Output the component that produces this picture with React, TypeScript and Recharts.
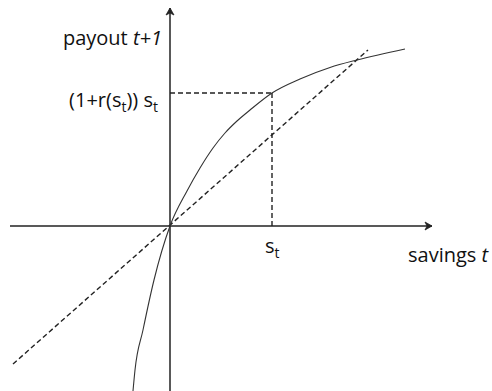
import React from "react";
import { LineChart, Line, XAxis, YAxis, ReferenceDot, ReferenceLine } from "recharts";

// Units: arbitrary diagram units of savings (x) and payout (y)
const curveSavings = [-0.925, -0.875, -0.675, -0.4, 0, 0.425, 0.75, 1.075, 1.375, 1.675, 2.0, 2.55, 3.25, 4.0, 4.675, 5.875];
const curvePayout = [-4.125, -3.6, -2.6, -1.35, 0, 0.875, 1.45, 1.95, 2.325, 2.625, 2.9, 3.325, 3.675, 3.9625, 4.15, 4.425];

const diagSavings = [-3.925, 4.95];
const diagPayout = [-3.45, 4.4];

const sT = 2.55;
const payoutAtST = 3.325;

const xAxisRange = [-4.0, 6.55];
const yAxisRange = [-4.2, 5.45];

const xDomain: [number, number] = [-4.25, 8.05];
const yDomain: [number, number] = [-4.125, 5.65];

const curveData = curveSavings.map((s, i) => ({ s, p: curvePayout[i] }));

const FONT = "'Open Sans', sans-serif";
const INK = "#222";

const ArrowUp = (props: any) => {
  const { cx, cy } = props;
  return <path d={`M${cx - 4},${cy + 7} L${cx},${cy} L${cx + 4},${cy + 7} L${cx},${cy + 5} Z`} fill={INK} stroke={INK} strokeWidth={0.8} />;
};
const ArrowRight = (props: any) => {
  const { cx, cy } = props;
  return <path d={`M${cx - 7},${cy - 4} L${cx},${cy} L${cx - 7},${cy + 4} L${cx - 5},${cy} Z`} fill={INK} stroke={INK} strokeWidth={0.8} />;
};

const makeText = (content: React.ReactNode, anchor: "start" | "end") => (props: any) => {
  const { cx, cy } = props;
  return (
    <text x={cx} y={cy} textAnchor={anchor} fontFamily={FONT} fontSize={20} fill="#111">
      {content}
    </text>
  );
};

const payoutLabel = makeText(
  <>
    payout <tspan fontStyle="italic">t+1</tspan>
  </>,
  "end"
);
const levelLabel = makeText(
  <>
    <tspan>(1+r(s</tspan>
    <tspan dy={5} fontSize={14}>t</tspan>
    <tspan dy={-5}>)) s</tspan>
    <tspan dy={5} fontSize={14}>t</tspan>
  </>,
  "end"
);
const stLabel = makeText(
  <>
    <tspan>s</tspan>
    <tspan dy={5} fontSize={14}>t</tspan>
  </>,
  "start"
);
const savingsLabel = makeText(
  <>
    savings <tspan fontStyle="italic">t</tspan>
  </>,
  "start"
);

export default function App() {
  return (
    <div style={{ position: "absolute", left: 0, top: 0, background: "#fff" }}>
      <LineChart width={492} height={391} margin={{ top: 0, right: 0, bottom: 0, left: 0 }}>
        <XAxis type="number" dataKey="s" domain={xDomain} hide allowDataOverflow />
        <YAxis type="number" dataKey="p" domain={yDomain} hide allowDataOverflow />
        <ReferenceLine segment={[{ x: xAxisRange[0], y: 0 }, { x: xAxisRange[1], y: 0 }]} stroke={INK} strokeWidth={1.5} ifOverflow="visible" />
        <ReferenceLine segment={[{ x: 0, y: yAxisRange[0] }, { x: 0, y: yAxisRange[1] }]} stroke={INK} strokeWidth={1.5} ifOverflow="visible" />
        <ReferenceLine segment={[{ x: 0, y: payoutAtST }, { x: sT, y: payoutAtST }]} stroke={INK} strokeWidth={1.4} strokeDasharray="5 3" ifOverflow="visible" />
        <ReferenceLine segment={[{ x: sT, y: 0 }, { x: sT, y: payoutAtST }]} stroke={INK} strokeWidth={1.4} strokeDasharray="5 3" ifOverflow="visible" />
        <ReferenceLine segment={[{ x: diagSavings[0], y: diagPayout[0] }, { x: diagSavings[1], y: diagPayout[1] }]} stroke={INK} strokeWidth={1.4} strokeDasharray="5 3" ifOverflow="visible" />
        <Line data={curveData} dataKey="p" stroke="#333" strokeWidth={1.1} dot={false} activeDot={false} isAnimationActive={false} type="monotone" />
        <ReferenceDot x={0} y={yAxisRange[1]} r={0} shape={ArrowUp} ifOverflow="visible" />
        <ReferenceDot x={xAxisRange[1]} y={0} r={0} shape={ArrowRight} ifOverflow="visible" />
        <ReferenceDot x={-0.2} y={4.525} r={0} shape={payoutLabel} ifOverflow="visible" />
        <ReferenceDot x={-0.3} y={2.975} r={0} shape={levelLabel} ifOverflow="visible" />
        <ReferenceDot x={2.375} y={-0.675} r={0} shape={stLabel} ifOverflow="visible" />
        <ReferenceDot x={5.95} y={-0.9} r={0} shape={savingsLabel} ifOverflow="visible" />
      </LineChart>
    </div>
  );
}
